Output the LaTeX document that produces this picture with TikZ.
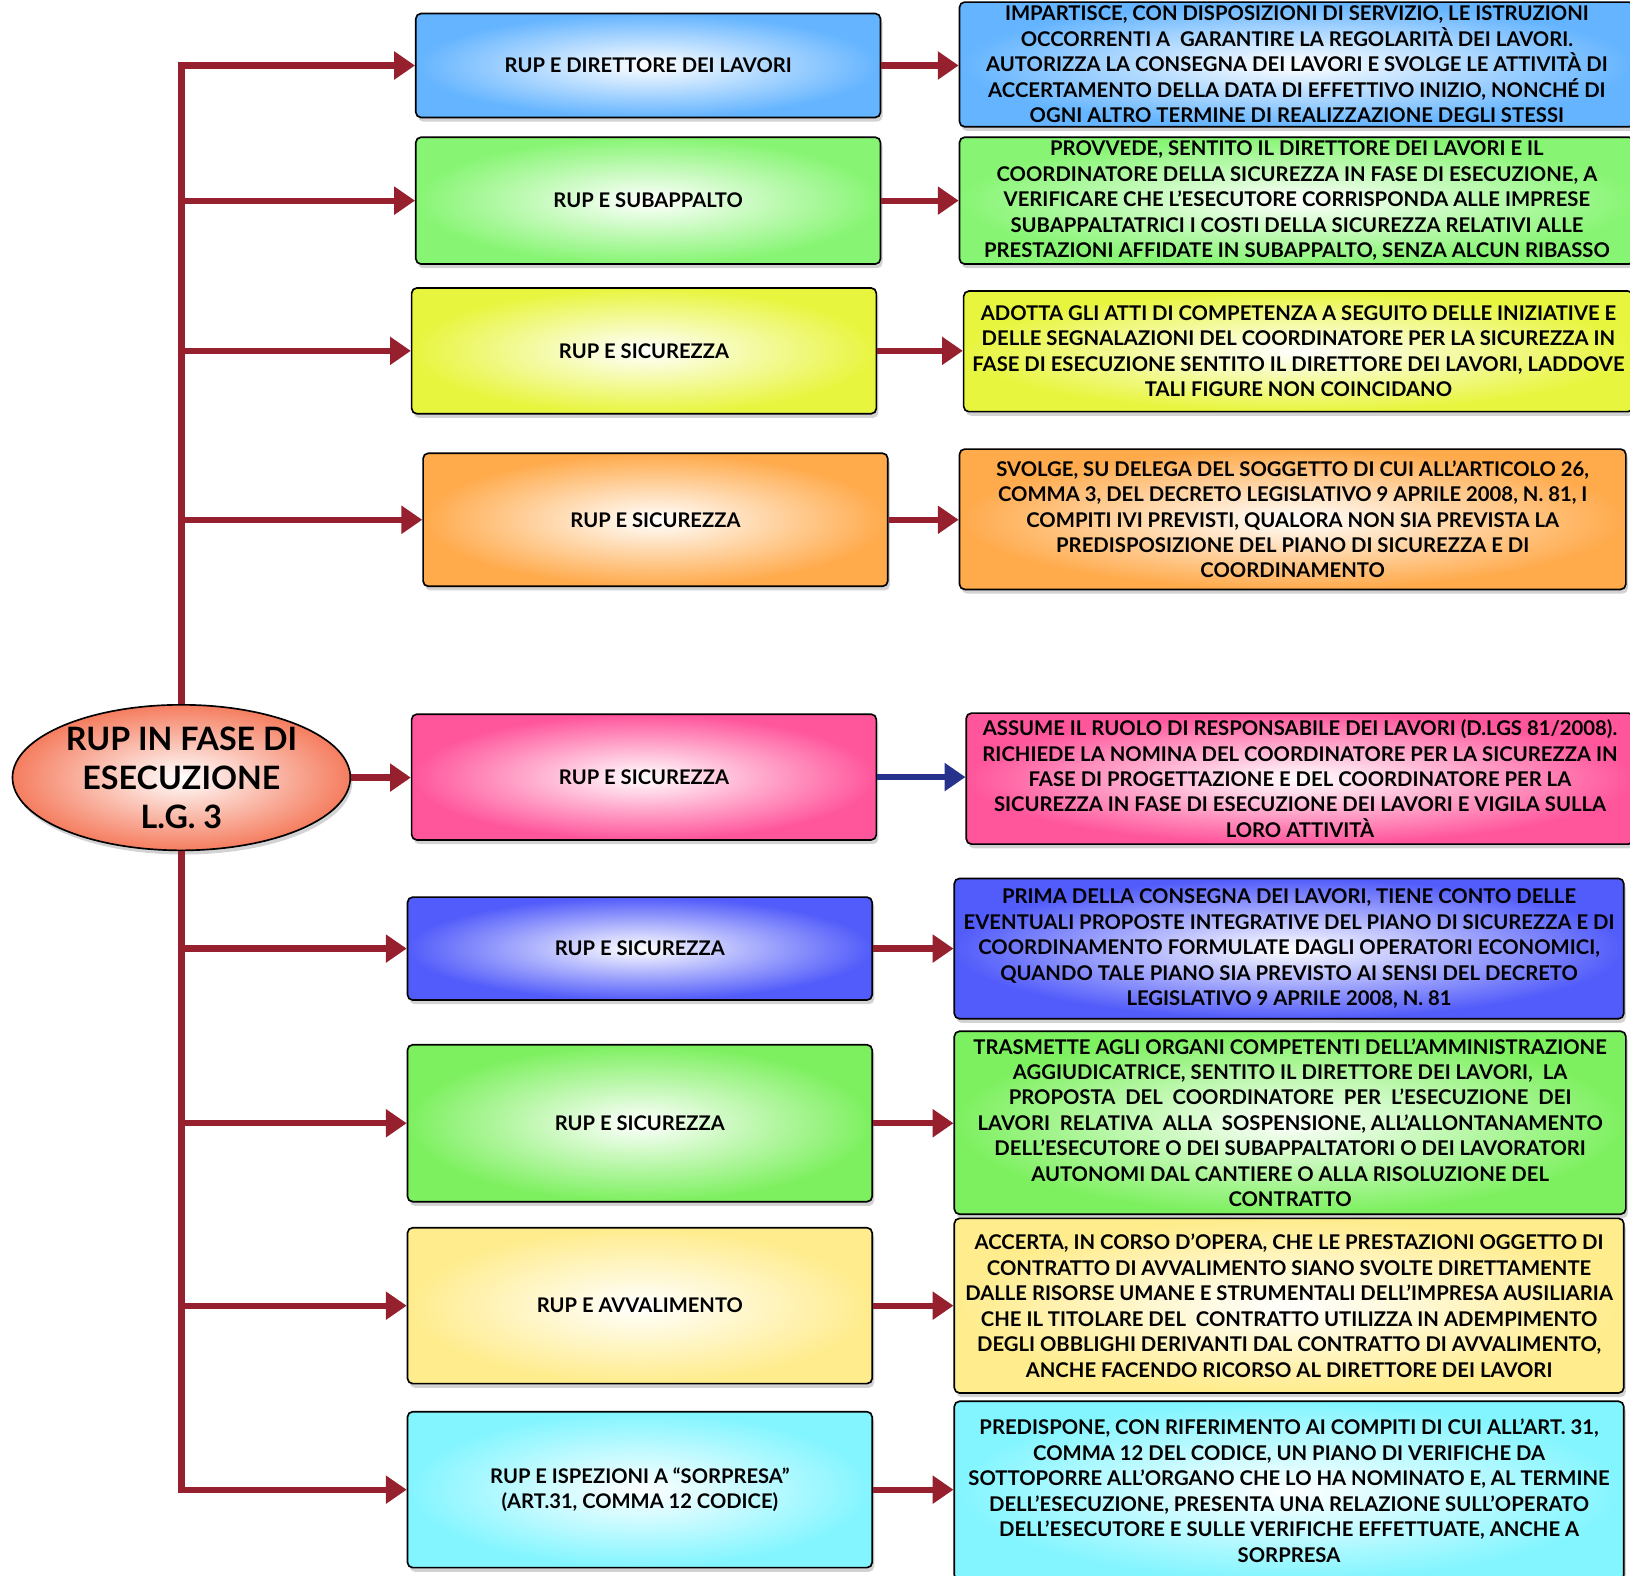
\documentclass[tikz,border=0pt]{standalone}
\usepackage{fontspec}
\setmainfont{Lato}
\usepackage{tikz}
\usetikzlibrary{arrows.meta,shapes.geometric,shadows,positioning,calc}

\definecolor{arrowred}{RGB}{150,32,45}
\definecolor{arrowblue}{RGB}{38,50,140}
\definecolor{cblue}{RGB}{100,180,255}
\definecolor{cgreen}{RGB}{135,245,115}
\definecolor{cyellow}{RGB}{232,245,62}
\definecolor{corange}{RGB}{255,170,75}
\definecolor{cpink}{RGB}{255,85,155}
\definecolor{cindigo}{RGB}{82,92,250}
\definecolor{cgreentwo}{RGB}{125,240,95}
\definecolor{cpale}{RGB}{255,236,140}
\definecolor{ccyan}{RGB}{130,245,255}
\definecolor{csalmon}{RGB}{245,125,95}

\begin{document}
\begin{tikzpicture}[x=0.5pt,y=-0.5pt,
	box/.style={draw=black,line width=0.8pt,rounded corners=2.5pt,shading=radial,inner color=white,outer color=#1,
		drop shadow={shadow xshift=1pt,shadow yshift=-2pt,opacity=0.35},align=center},
	leftbox/.style={box=#1,minimum width=223.5pt,font=\bfseries\fontsize{9.7}{12.25}\selectfont},
	rightbox/.style={box=#1,inner sep=1pt,font=\bfseries\fontsize{9.75}{12.25}\selectfont},
	link/.style={draw=arrowred,line width=3pt,-{Triangle[length=10pt,width=13pt]}},
	]
	\useasboundingbox (0,0) rectangle (1568,1516);

	\node[ellipse,draw=black,line width=0.8pt,shading=radial,inner color=white,outer color=csalmon,
		drop shadow={shadow xshift=1pt,shadow yshift=-2pt,opacity=0.35},
		minimum width=162.5pt,minimum height=70pt,inner sep=0pt,align=center,
		font=\bfseries\fontsize{15.5}{18.75}\selectfont] (rup) at (174.5,748) {RUP IN FASE DI\\ESECUZIONE\\L.G. 3};

	\node[leftbox=cblue,minimum height=50pt] (lb1) at (623.5,63) {RUP E DIRETTORE DEI LAVORI};
	\node[leftbox=cgreen,minimum height=61pt] (lb2) at (623.5,193) {RUP E SUBAPPALTO};
	\node[leftbox=cyellow,minimum height=60.5pt] (lb3) at (619.5,337.5) {RUP E SICUREZZA};
	\node[leftbox=corange,minimum height=64pt] (lb4) at (630.5,500) {RUP E SICUREZZA};
	\node[leftbox=cpink,minimum height=60.5pt] (lb5) at (619.5,747.5) {RUP E SICUREZZA};
	\node[leftbox=cindigo,minimum height=49.5pt] (lb6) at (615.5,912.5) {RUP E SICUREZZA};
	\node[leftbox=cgreentwo,minimum height=75.5pt] (lb7) at (615.5,1080.5) {RUP E SICUREZZA};
	\node[leftbox=cpale,minimum height=75pt] (lb8) at (615.5,1256) {RUP E AVVALIMENTO};
	\node[leftbox=ccyan,minimum height=75pt] (lb9) at (615.5,1433) {RUP E ISPEZIONI A “SORPRESA”\\(ART.31, COMMA 12 CODICE)};

	\node[rightbox=cblue,minimum width=324.5pt,minimum height=60pt] (rb1) at (1247.5,62) {IMPARTISCE, CON DISPOSIZIONI DI SERVIZIO, LE ISTRUZIONI\\OCCORRENTI A~ GARANTIRE LA REGOLARITÀ DEI LAVORI.\\AUTORIZZA LA CONSEGNA DEI LAVORI E SVOLGE LE ATTIVITÀ DI\\ACCERTAMENTO DELLA DATA DI EFFETTIVO INIZIO, NONCHÉ DI\\OGNI ALTRO TERMINE DI REALIZZAZIONE DEGLI STESSI};
	\node[rightbox=cgreen,minimum width=324.5pt,minimum height=61pt] (rb2) at (1247.5,193) {PROVVEDE, SENTITO IL DIRETTORE DEI LAVORI E IL\\COORDINATORE DELLA SICUREZZA IN FASE DI ESECUZIONE, A\\VERIFICARE CHE L’ESECUTORE CORRISPONDA ALLE IMPRESE\\SUBAPPALTATRICI I COSTI DELLA SICUREZZA RELATIVI ALLE\\PRESTAZIONI AFFIDATE IN SUBAPPALTO, SENZA ALCUN RIBASSO};
	\node[rightbox=cyellow,minimum width=322pt,minimum height=58pt] (rb3) at (1249,338) {ADOTTA GLI ATTI DI COMPETENZA A SEGUITO DELLE INIZIATIVE E\\DELLE SEGNALAZIONI DEL COORDINATORE PER LA SICUREZZA IN\\FASE DI ESECUZIONE SENTITO IL DIRETTORE DEI LAVORI, LADDOVE\\TALI FIGURE NON COINCIDANO};
	\node[rightbox=corange,minimum width=320.5pt,minimum height=67.5pt] (rb4) at (1243.5,499.5) {SVOLGE, SU DELEGA DEL SOGGETTO DI CUI ALL’ARTICOLO 26,\\COMMA 3, DEL DECRETO LEGISLATIVO 9 APRILE 2008, N. 81, I\\COMPITI IVI PREVISTI, QUALORA NON SIA PREVISTA LA\\PREDISPOSIZIONE DEL PIANO DI SICUREZZA E DI\\COORDINAMENTO};
	\node[rightbox=cpink,minimum width=321pt,minimum height=63pt] (rb5) at (1250.5,749) {ASSUME IL RUOLO DI RESPONSABILE DEI LAVORI (D.LGS 81/2008).\\RICHIEDE LA NOMINA DEL COORDINATORE PER LA SICUREZZA IN\\FASE DI PROGETTAZIONE E DEL COORDINATORE PER LA\\SICUREZZA IN FASE DI ESECUZIONE DEI LAVORI E VIGILA SULLA\\LORO ATTIVITÀ};
	\node[rightbox=cindigo,minimum width=322pt,minimum height=67.5pt] (rb6) at (1240,912.5) {PRIMA DELLA CONSEGNA DEI LAVORI, TIENE CONTO DELLE\\EVENTUALI PROPOSTE INTEGRATIVE DEL PIANO DI SICUREZZA E DI\\COORDINAMENTO FORMULATE DAGLI OPERATORI ECONOMICI,\\QUANDO TALE PIANO SIA PREVISTO AI SENSI DEL DECRETO\\LEGISLATIVO 9 APRILE 2008, N. 81};
	\node[rightbox=cgreentwo,minimum width=323pt,minimum height=88pt] (rb7) at (1241,1080) {TRASMETTE AGLI ORGANI COMPETENTI DELL’AMMINISTRAZIONE\\AGGIUDICATRICE, SENTITO IL DIRETTORE DEI LAVORI,~ LA\\PROPOSTA~ DEL~ COORDINATORE~ PER~ L’ESECUZIONE~ DEI\\LAVORI~ RELATIVA~ ALLA~ SOSPENSIONE, ALL’ALLONTANAMENTO\\DELL’ESECUTORE O DEI SUBAPPALTATORI O DEI LAVORATORI\\AUTONOMI DAL CANTIERE O ALLA RISOLUZIONE DEL\\CONTRATTO};
	\node[rightbox=cpale,minimum width=322pt,minimum height=84pt] (rb8) at (1240,1256) {ACCERTA, IN CORSO D’OPERA, CHE LE PRESTAZIONI OGGETTO DI\\CONTRATTO DI AVVALIMENTO SIANO SVOLTE DIRETTAMENTE\\DALLE RISORSE UMANE E STRUMENTALI DELL’IMPRESA AUSILIARIA\\CHE IL TITOLARE DEL~ CONTRATTO UTILIZZA IN ADEMPIMENTO\\DEGLI OBBLIGHI DERIVANTI DAL CONTRATTO DI AVVALIMENTO,\\ANCHE FACENDO RICORSO AL DIRETTORE DEI LAVORI};
	\node[rightbox=ccyan,minimum width=322pt,minimum height=86pt] (rb9) at (1240,1434) {PREDISPONE, CON RIFERIMENTO AI COMPITI DI CUI ALL’ART. 31,\\COMMA 12 DEL CODICE, UN PIANO DI VERIFICHE DA\\SOTTOPORRE ALL’ORGANO CHE LO HA NOMINATO E, AL TERMINE\\DELL’ESECUZIONE, PRESENTA UNA RELAZIONE SULL’OPERATO\\DELL’ESECUTORE E SULLE VERIFICHE EFFETTUATE, ANCHE A\\SORPRESA};

	\draw[link] (rup.north) |- (lb1.west);
	\draw[link] (rup.north) |- (lb2.west);
	\draw[link] (rup.north) |- (lb3.west);
	\draw[link] (rup.north) |- (lb4.west);
	\draw[link] (rup.east) -- (rup.east -| lb5.west);
	\draw[link] (rup.south) |- (lb6.west);
	\draw[link] (rup.south) |- (lb7.west);
	\draw[link] (rup.south) |- (lb8.west);
	\draw[link] (rup.south) |- (lb9.west);

	\draw[link] (lb1.east) -- (lb1.east -| rb1.west);
	\draw[link] (lb2.east) -- (lb2.east -| rb2.west);
	\draw[link] (lb3.east) -- (lb3.east -| rb3.west);
	\draw[link] (lb4.east) -- (lb4.east -| rb4.west);
	\draw[link,draw=arrowblue] (lb5.east) -- (lb5.east -| rb5.west);
	\draw[link] (lb6.east) -- (lb6.east -| rb6.west);
	\draw[link] (lb7.east) -- (lb7.east -| rb7.west);
	\draw[link] (lb8.east) -- (lb8.east -| rb8.west);
	\draw[link] (lb9.east) -- (lb9.east -| rb9.west);
\end{tikzpicture}
\end{document}
